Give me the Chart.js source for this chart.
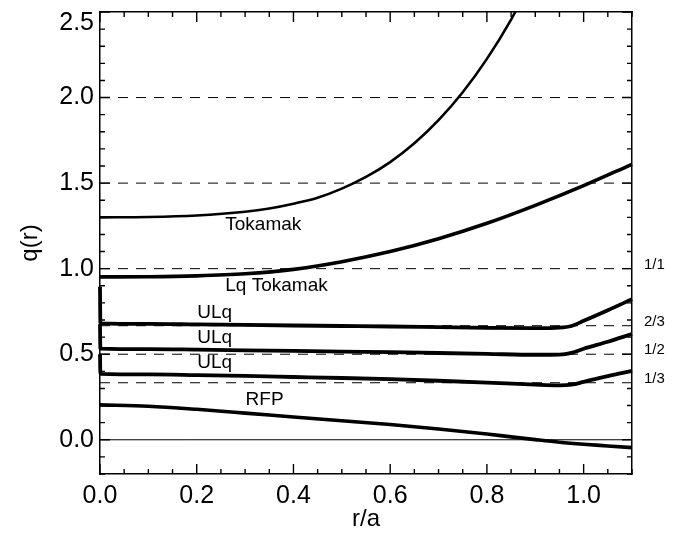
<!DOCTYPE html>
<html>
<head>
<meta charset="utf-8">
<script src="https://cdn.jsdelivr.net/npm/chart.js@4.4.1/dist/chart.umd.min.js"></script>
<style>
html,body{margin:0;padding:0;background:#fff;}
#wrap{width:686px;height:538px;position:relative;}
</style>
</head>
<body>
<div id="wrap"><canvas id="c"></canvas></div>
<script>
// ---- data ----
const rTokamak = [0, 0.1, 0.2, 0.3, 0.35, 0.4, 0.45, 0.5, 0.55, 0.6, 0.65, 0.7, 0.75, 0.8, 0.85, 0.9];
const qTokamak = [1.300, 1.302, 1.311, 1.333, 1.352, 1.380, 1.415, 1.468, 1.536, 1.623, 1.733, 1.868, 2.031, 2.226, 2.456, 2.726];

const rLqTokamak = [0, 0.1, 0.2, 0.3, 0.4, 0.5, 0.6, 0.7, 0.8, 0.9, 1.0, 1.1];
const qLqTokamak = [0.952, 0.953, 0.958, 0.970, 0.996, 1.041, 1.100, 1.175, 1.265, 1.370, 1.485, 1.610];

const rULq = [0, 0.0008, 0.1, 0.2, 0.3, 0.4, 0.5, 0.6, 0.7, 0.8, 0.9, 0.95, 0.975, 1.0, 1.05, 1.1];
const qULq1 = [0.894, 0.680, 0.677, 0.674, 0.671, 0.668, 0.665, 0.662, 0.658, 0.654, 0.652, 0.655, 0.665, 0.695, 0.757, 0.822];
const qULq2 = [0.675, 0.533, 0.530, 0.527, 0.523, 0.519, 0.515, 0.512, 0.507, 0.502, 0.497, 0.498, 0.508, 0.532, 0.573, 0.618];
const qULq3 = [0.500, 0.385, 0.382, 0.378, 0.373, 0.367, 0.361, 0.354, 0.345, 0.334, 0.322, 0.318, 0.322, 0.338, 0.372, 0.403];

const rRFP = [0, 0.1, 0.2, 0.3, 0.4, 0.5, 0.6, 0.7, 0.8, 0.85, 0.9, 0.95, 1.0, 1.05, 1.1];
const qRFP = [0.204, 0.196, 0.178, 0.156, 0.133, 0.111, 0.089, 0.063, 0.034, 0.017, 0.001, -0.014, -0.026, -0.036, -0.046];

const dashedLevels = [2.0, 1.5, 1.0, 2/3, 1/2, 1/3];
const zeroLevel = 0;

const xTickValues = [0, 0.2, 0.4, 0.6, 0.8, 1.0];
const yTickValues = [0, 0.5, 1.0, 1.5, 2.0, 2.5];
const rationalValues = [1/3, 1/2, 2/3, 1];
const rationalLabels = ['1/3', '1/2', '2/3', '1/1'];

const curveLabels = ['Tokamak', 'Lq Tokamak', 'ULq', 'ULq', 'ULq', 'RFP'];
const curveLabelR = [0.259, 0.259, 0.201, 0.201, 0.201, 0.301];
const curveLabelQ = [1.228, 0.871, 0.710, 0.564, 0.418, 0.204];

const xRange = [0, 1.1];
const yRange = [-0.2, 2.5];

// ---- build ----
const FONT = '"Liberation Sans", Arial, Helvetica, sans-serif';
Chart.defaults.font.family = FONT;
Chart.defaults.color = '#000';

const pts = (rs, qs) => rs.map((r, i) => ({x: r, y: qs[i]}));
const curve = (label, rs, qs, w, clip) => ({
  label, data: pts(rs, qs), borderColor: '#000', borderWidth: w,
  pointRadius: 0, cubicInterpolationMode: 'monotone', fill: false,
  clip: clip
});
const hline = (v, dashed) => ({
  label: 'ref', data: [{x: xRange[0], y: v}, {x: xRange[1], y: v}],
  borderColor: '#000', borderWidth: 1, borderDash: dashed ? [10, 8] : [],
  pointRadius: 0, tension: 0, fill: false
});

const datasets = [
  curve('Tokamak', rTokamak, qTokamak, 2.6, undefined),
  curve('Lq Tokamak', rLqTokamak, qLqTokamak, 3.6, false),
  curve('ULq1', rULq, qULq1, 3.8, false),
  curve('ULq2', rULq, qULq2, 3.8, false),
  curve('ULq3', rULq, qULq3, 3.8, false),
  curve('RFP', rRFP, qRFP, 3.6, false),
  ...dashedLevels.map(v => hline(v, true)),
  hline(zeroLevel, false)
];

const fixBox = (w, h) => (s) => {
  if (w !== null) s.width = w;
  if (h !== null) s.height = h;
  s.paddingTop = 0; s.paddingBottom = 0; s.paddingLeft = 0; s.paddingRight = 0;
};

const frameTicks = {
  id: 'frameTicks',
  afterDatasetsDraw(chart) {
    const {ctx, chartArea: a} = chart;
    const x = chart.scales.x, y = chart.scales.y;
    const MAJ = 10, MIN = 5;
    ctx.save();
    ctx.strokeStyle = '#000';
    ctx.lineWidth = 1.4;
    ctx.beginPath();
    for (let i = 0; i <= 22; i++) {
      const px = x.getPixelForValue(i * 0.05);
      const len = (i % 4 === 0) ? MAJ : MIN;
      ctx.moveTo(px, a.bottom); ctx.lineTo(px, a.bottom - len);
      ctx.moveTo(px, a.top); ctx.lineTo(px, a.top + len);
    }
    for (let i = -2; i <= 25; i++) {
      const py = y.getPixelForValue(i / 10);
      const len = (i % 5 === 0) ? MAJ : MIN;
      ctx.moveTo(a.left, py); ctx.lineTo(a.left + len, py);
      ctx.moveTo(a.right, py); ctx.lineTo(a.right - len, py);
    }
    ctx.stroke();
    ctx.fillStyle = '#000';
    ctx.font = '19px ' + FONT;
    ctx.textAlign = 'left';
    ctx.textBaseline = 'alphabetic';
    curveLabels.forEach((t, i) => {
      ctx.fillText(t, x.getPixelForValue(curveLabelR[i]), y.getPixelForValue(curveLabelQ[i]));
    });
    ctx.restore();
  }
};

new Chart(document.getElementById('c'), {
  type: 'line',
  data: {datasets},
  options: {
    responsive: true,
    maintainAspectRatio: false,
    animation: false,
    devicePixelRatio: 1,
    layout: {padding: 0},
    plugins: {legend: {display: false}, tooltip: {enabled: false}},
    scales: {
      x: {
        type: 'linear', position: 'bottom', min: xRange[0], max: xRange[1],
        grid: {display: false, drawTicks: false},
        border: {display: true, color: '#000', width: 1.5},
        afterBuildTicks: s => { s.ticks = xTickValues.map(v => ({value: v})); },
        ticks: {font: {size: 25}, padding: 7, maxRotation: 0, autoSkip: false,
                callback: v => Number(v).toFixed(1)},
        title: {display: true, text: 'r/a', font: {size: 24}, padding: {top: 4, bottom: 4}},
        afterFit: fixBox(null, 64)
      },
      x2: {
        type: 'linear', position: 'top', min: xRange[0], max: xRange[1],
        grid: {display: false, drawTicks: false},
        border: {display: true, color: '#000', width: 1.5},
        ticks: {display: false},
        afterFit: fixBox(null, 12)
      },
      y: {
        type: 'linear', position: 'left', min: yRange[0], max: yRange[1],
        grid: {display: false, drawTicks: false},
        border: {display: true, color: '#000', width: 1.5},
        afterBuildTicks: s => { s.ticks = yTickValues.map(v => ({value: v})); },
        ticks: {font: {size: 25, lineHeight: 0.85}, padding: 6, autoSkip: false,
                callback: (v, i, t) => i === t.length - 1 ? ['', Number(v).toFixed(1)] : Number(v).toFixed(1)},
        title: {display: true, text: 'q(r)', font: {size: 24}, padding: {top: 16, bottom: 16}},
        afterFit: fixBox(100, null)
      },
      y2: {
        type: 'linear', position: 'right', min: yRange[0], max: yRange[1],
        grid: {display: false, drawTicks: false},
        border: {display: true, color: '#000', width: 1.5},
        afterBuildTicks: s => { s.ticks = rationalValues.map(v => ({value: v})); },
        ticks: {font: {size: 15}, padding: 12, labelOffset: -4, autoSkip: false,
                callback: (v, i) => rationalLabels[i]},
        afterFit: fixBox(54, null)
      }
    }
  },
  plugins: [frameTicks]
});
</script>
</body>
</html>
